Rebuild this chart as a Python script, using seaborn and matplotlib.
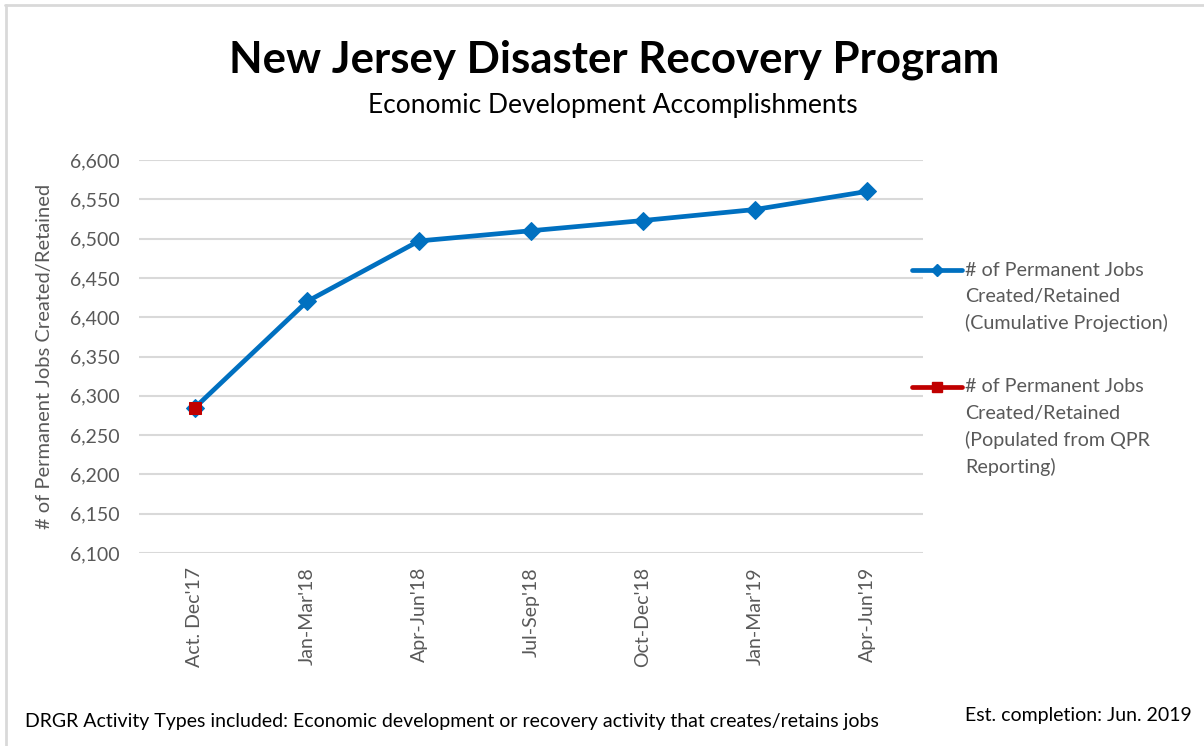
import matplotlib
matplotlib.use("Agg")
import matplotlib.pyplot as plt
import seaborn as sns
import pandas as pd
from matplotlib.lines import Line2D

quarters = ["Act. Dec'17", "Jan-Mar'18", "Apr-Jun'18", "Jul-Sep'18",
            "Oct-Dec'18", "Jan-Mar'19", "Apr-Jun'19"]
projection = [6285, 6420, 6497, 6510, 6523, 6537, 6560]
qpr_quarters = ["Act. Dec'17"]
qpr_actual = [6285]

yticks = list(range(6100, 6601, 50))

legend_labels = [
    "# of Permanent Jobs\nCreated/Retained\n(Cumulative Projection)",
    "# of Permanent Jobs\nCreated/Retained\n(Populated from QPR\nReporting)",
]

sns.set_theme(style="white")
plt.rcParams["font.family"] = ["Lato", "DejaVu Sans"]

W, H = 1204, 746
fig = plt.figure(figsize=(W / 100, H / 100), dpi=100)
ax = fig.add_axes([139 / W, 1 - 553 / H, (923 - 139) / W, (553 - 160) / H])

proj_df = pd.DataFrame({"quarter": quarters, "jobs": projection})
qpr_df = pd.DataFrame({"quarter": qpr_quarters, "jobs": qpr_actual})

blue = "#0070C0"
red = "#C00000"
grey_text = "#595959"

sns.lineplot(data=proj_df, x="quarter", y="jobs", ax=ax, color=blue,
             linewidth=3.4, marker="D", markersize=9.5, markeredgecolor=blue,
             sort=False)
sns.lineplot(data=qpr_df, x="quarter", y="jobs", ax=ax, color=red,
             linewidth=3.4, marker="s", markersize=9, markeredgecolor=red,
             sort=False)

ax.set_xlim(-0.5, len(quarters) - 0.5)
ax.set_ylim(6100, 6600)
ax.set_yticks(yticks)
ax.set_yticklabels([f"{v:,}" for v in yticks], fontsize=14, color=grey_text)
ax.set_xticks(range(len(quarters)))
ax.set_xticklabels(quarters, rotation=90, fontsize=14, color=grey_text)
ax.tick_params(axis="y", length=0, pad=14)
ax.tick_params(axis="x", length=0, pad=10)
ax.yaxis.grid(True, color="#D9D9D9", linewidth=1.5)
ax.set_axisbelow(True)
for s in ax.spines.values():
    s.set_visible(False)
ax.set_xlabel("")
ax.set_ylabel("# of Permanent Jobs Created/Retained", fontsize=14.5,
              color=grey_text, labelpad=12)

# Legend drawn beside the plot: short line + marker, then wrapped label
line_step = 26.5
for (color, mk, ms, y0), label in zip(
        [(blue, "D", 6.5, 270), (red, "s", 6.5, 387)], legend_labels):
    fig.add_artist(Line2D([912 / W, 962 / W], [1 - y0 / H] * 2, color=color,
                          lw=3.4, transform=fig.transFigure))
    fig.add_artist(Line2D([937 / W], [1 - y0 / H], color=color, marker=mk,
                          markersize=ms, transform=fig.transFigure))
    for i, line in enumerate(label.split("\n")):
        fig.text(965 / W, 1 - (y0 + i * line_step) / H, line, ha="left",
                 va="center", fontsize=14.2, color=grey_text)

fig.text(614 / W, 1 - 60 / H, "New Jersey Disaster Recovery Program",
         ha="center", va="center", fontsize=31.5, fontweight="bold",
         color="black")
fig.text(613 / W, 1 - 105 / H, "Economic Development Accomplishments",
         ha="center", va="center", fontsize=19, color="black")

fig.text(25 / W, 1 - 722 / H, "DRGR Activity Types included: Economic "
         "development or recovery activity that creates/retains jobs",
         ha="left", va="center", fontsize=14, color="black")
fig.text(1192 / W, 1 - 715 / H, "Est. completion: Jun. 2019", ha="right",
         va="center", fontsize=14, color="black")

# Chart frame: top and left edges
frame = "#D9D9D9"
fig.add_artist(Line2D([5 / W, 1], [1 - 5 / H] * 2, color=frame, lw=2,
                      transform=fig.transFigure))
fig.add_artist(Line2D([6 / W] * 2, [0, 1 - 5 / H], color=frame, lw=2,
                      transform=fig.transFigure))

fig.savefig("out.png", dpi=100)
